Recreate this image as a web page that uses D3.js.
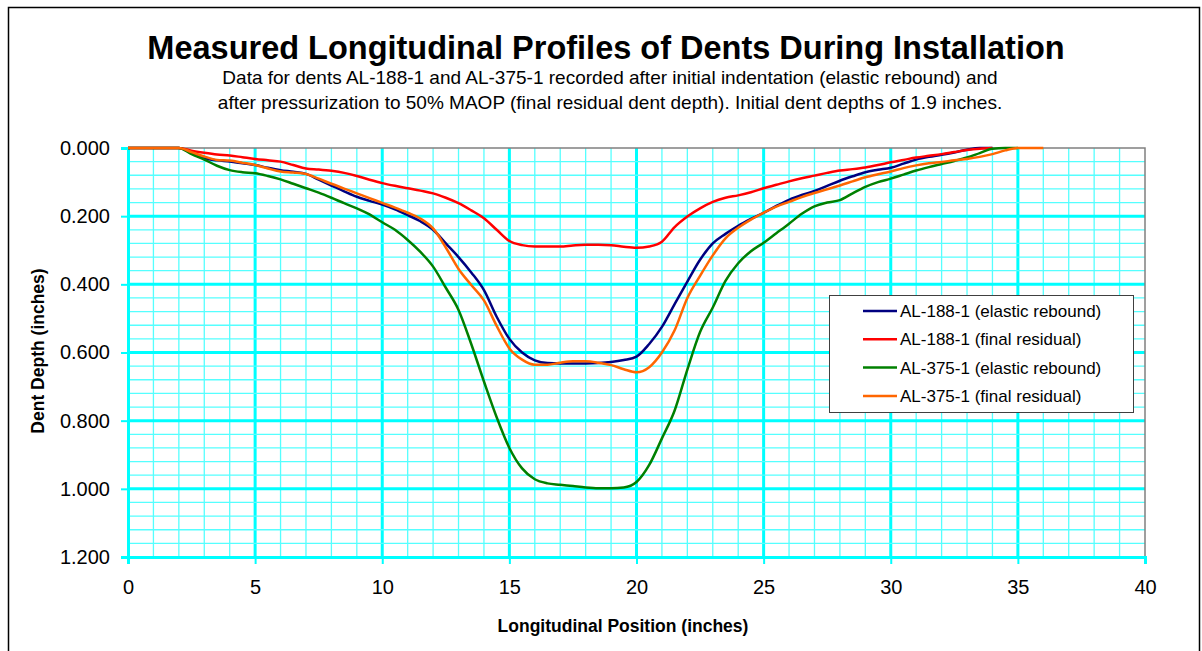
<!DOCTYPE html>
<html>
<head>
<meta charset="utf-8">
<script src="https://cdn.jsdelivr.net/npm/d3@7"></script>
<style>
  body { margin: 0; background: #fff; }
  text { font-family: "Liberation Sans", Arial, sans-serif; fill: #000; }
</style>
</head>
<body>
<svg width="1202" height="651"></svg>
<script>
// sample positions along the dent (inches)
var positions = [0, 0.5, 1, 1.5, 2, 2.5, 3, 3.5, 4, 4.5, 5, 5.5, 6, 6.5, 7, 7.5, 8, 8.5, 9, 9.5,
  10, 10.5, 11, 11.5, 12, 12.5, 13, 13.5, 14, 14.5, 15, 15.5, 16, 16.5, 17, 17.5, 18, 18.5, 19, 19.5,
  20, 20.5, 21, 21.5, 22, 22.5, 23, 23.5, 24, 24.5, 25, 25.5, 26, 26.5, 27, 27.5, 28, 28.5, 29, 29.5,
  30, 30.5, 31, 31.5, 32, 32.5, 33, 33.5, 34, 34.5, 35, 35.5, 36];

var al188Elastic = [0, 0, 0, 0, 0, 0.015, 0.030, 0.036, 0.040, 0.045, 0.050, 0.058, 0.065, 0.070, 0.076, 0.093, 0.110, 0.127, 0.143, 0.155,
  0.166, 0.180, 0.197, 0.215, 0.240, 0.280, 0.320, 0.365, 0.417, 0.495, 0.560, 0.600, 0.623, 0.631, 0.632, 0.632, 0.632, 0.631, 0.628, 0.622,
  0.612, 0.575, 0.525, 0.458, 0.392, 0.328, 0.280, 0.252, 0.228, 0.208, 0.190, 0.170, 0.152, 0.138, 0.126, 0.111, 0.096, 0.083, 0.071, 0.064,
  0.058, 0.046, 0.034, 0.026, 0.020, 0.013, 0.005, 0, 0];

var al188Final = [0, 0, 0, 0, 0, 0.008, 0.014, 0.019, 0.022, 0.027, 0.032, 0.036, 0.040, 0.050, 0.060, 0.063, 0.067, 0.073, 0.082, 0.093,
  0.103, 0.111, 0.118, 0.125, 0.133, 0.146, 0.162, 0.183, 0.206, 0.240, 0.273, 0.285, 0.289, 0.289, 0.289, 0.286, 0.284, 0.284, 0.285, 0.290,
  0.293, 0.289, 0.275, 0.232, 0.201, 0.177, 0.158, 0.146, 0.139, 0.130, 0.118, 0.108, 0.098, 0.089, 0.081, 0.073, 0.066, 0.062, 0.057, 0.050,
  0.042, 0.035, 0.028, 0.023, 0.018, 0.012, 0.006, 0.002, 0];

var al375Elastic = [0, 0, 0, 0, 0, 0.018, 0.034, 0.052, 0.065, 0.071, 0.074, 0.082, 0.092, 0.105, 0.118, 0.131, 0.146, 0.162, 0.177, 0.195,
  0.218, 0.240, 0.270, 0.305, 0.348, 0.410, 0.475, 0.575, 0.685, 0.790, 0.880, 0.940, 0.972, 0.984, 0.988, 0.992, 0.996, 0.998, 0.998, 0.996,
  0.980, 0.930, 0.852, 0.770, 0.650, 0.540, 0.468, 0.390, 0.338, 0.303, 0.278, 0.250, 0.222, 0.193, 0.171, 0.160, 0.153, 0.133, 0.114, 0.100,
  0.090, 0.078, 0.066, 0.056, 0.047, 0.038, 0.028, 0.015, 0.002, 0, 0];

var al375Final = [0, 0, 0, 0, 0, 0.012, 0.025, 0.035, 0.037, 0.043, 0.050, 0.060, 0.069, 0.072, 0.076, 0.090, 0.105, 0.119, 0.133, 0.147,
  0.161, 0.175, 0.190, 0.207, 0.236, 0.292, 0.355, 0.402, 0.447, 0.522, 0.588, 0.621, 0.636, 0.636, 0.630, 0.626, 0.626, 0.630, 0.637, 0.649,
  0.658, 0.643, 0.600, 0.535, 0.440, 0.375, 0.315, 0.265, 0.234, 0.210, 0.190, 0.172, 0.158, 0.144, 0.132, 0.121, 0.110, 0.098, 0.086, 0.077,
  0.069, 0.059, 0.051, 0.045, 0.041, 0.036, 0.032, 0.026, 0.018, 0.007, 0, 0, 0];

var seriesNames = ["AL-188-1 (elastic rebound)", "AL-188-1 (final residual)",
  "AL-375-1 (elastic rebound)", "AL-375-1 (final residual)"];
var seriesValues = [al188Elastic, al188Final, al375Elastic, al375Final];
var seriesColors = ["#000080", "#ff0000", "#008000", "#ff6600"];

var xTicks = [0, 5, 10, 15, 20, 25, 30, 35, 40];
var yTicks = [0, 0.2, 0.4, 0.6, 0.8, 1.0, 1.2];

var svg = d3.select("svg");

var plot = { left: 128, right: 1145, top: 148, bottom: 557 };

var x = d3.scaleLinear().domain([0, 40]).range([plot.left, plot.right]);
var y = d3.scaleLinear().domain([0, 1.2]).range([plot.top, plot.bottom]);

// outer frame
svg.append("rect")
  .attr("x", 8.5).attr("y", 7.5)
  .attr("width", 1191).attr("height", 700)
  .attr("fill", "none")
  .attr("stroke", "#000")
  .attr("stroke-width", 1.5);

// grid
var grid = svg.append("g").attr("class", "grid");

grid.selectAll("line.vminor")
  .data(d3.range(1, 40))
  .enter().append("line")
  .attr("x1", function(d) { return x(d); })
  .attr("x2", function(d) { return x(d); })
  .attr("y1", plot.top).attr("y2", plot.bottom)
  .attr("stroke", function(d) { return d % 5 === 0 ? "#00ffff" : "#55ffff"; })
  .attr("stroke-width", function(d) { return d % 5 === 0 ? 3 : 1.3; });

grid.selectAll("line.hminor")
  .data(d3.range(1, 30))
  .enter().append("line")
  .attr("y1", function(d) { return y(d * 0.04); })
  .attr("y2", function(d) { return y(d * 0.04); })
  .attr("x1", plot.left).attr("x2", plot.right)
  .attr("stroke", function(d) { return d % 5 === 0 ? "#00ffff" : "#55ffff"; })
  .attr("stroke-width", function(d) { return d % 5 === 0 ? 3 : 1.3; });

// plot border (top and right grey)
svg.append("path")
  .attr("d", "M" + plot.left + "," + plot.top + "H" + plot.right + "V" + plot.bottom)
  .attr("fill", "none")
  .attr("stroke", "#808080")
  .attr("stroke-width", 1.5);

// axes
var xAxis = svg.append("g")
  .attr("transform", "translate(0," + plot.bottom + ")")
  .call(d3.axisBottom(x).tickValues(xTicks).tickSize(7).tickPadding(16)
    .tickFormat(d3.format("d")));

var yAxis = svg.append("g")
  .attr("transform", "translate(" + plot.left + ",0)")
  .call(d3.axisLeft(y).tickValues(yTicks).tickSize(7).tickPadding(11)
    .tickFormat(d3.format(".3f")));

[xAxis, yAxis].forEach(function(a) {
  a.select(".domain").attr("stroke", "#00ffff").attr("stroke-width", 3);
  a.selectAll(".tick line").attr("stroke", "#00ffff").attr("stroke-width", 2);
  a.selectAll(".tick text")
    .attr("font-size", 20)
    .attr("font-family", "Liberation Sans, Arial, sans-serif")
    .attr("fill", "#000");
});

// lines
var line = d3.line()
  .x(function(d) { return x(d[0]); })
  .y(function(d) { return y(d[1]); })
  .curve(d3.curveMonotoneX);

svg.append("g").selectAll("path")
  .data(seriesValues)
  .enter().append("path")
  .attr("d", function(vals) {
    return line(vals.map(function(v, i) { return [positions[i], v]; }));
  })
  .attr("fill", "none")
  .attr("stroke", function(d, i) { return seriesColors[i]; })
  .attr("stroke-width", 2.5)
  .attr("stroke-linejoin", "round");

// titles
svg.append("text")
  .attr("x", 606).attr("y", 59)
  .attr("text-anchor", "middle")
  .attr("font-size", 32.5)
  .attr("font-weight", "bold")
  .text("Measured Longitudinal Profiles of Dents During Installation");

svg.append("text")
  .attr("x", 610).attr("y", 84)
  .attr("text-anchor", "middle")
  .attr("font-size", 19)
  .text("Data for dents AL-188-1 and AL-375-1 recorded after initial indentation (elastic rebound) and");

svg.append("text")
  .attr("x", 610).attr("y", 109)
  .attr("text-anchor", "middle")
  .attr("font-size", 19)
  .text("after pressurization to 50% MAOP (final residual dent depth). Initial dent depths of 1.9 inches.");

svg.append("text")
  .attr("x", 623).attr("y", 632)
  .attr("text-anchor", "middle")
  .attr("font-size", 17.5)
  .attr("font-weight", "bold")
  .text("Longitudinal Position (inches)");

svg.append("text")
  .attr("transform", "translate(44,351) rotate(-90)")
  .attr("text-anchor", "middle")
  .attr("font-size", 17.5)
  .attr("font-weight", "bold")
  .text("Dent Depth (inches)");

// legend
var legend = svg.append("g").attr("transform", "translate(829,295)");
legend.append("rect")
  .attr("x", 0.5).attr("y", 0.5)
  .attr("width", 304).attr("height", 117)
  .attr("fill", "#fff")
  .attr("stroke", "#404040")
  .attr("stroke-width", 1);

var item = legend.selectAll("g.item")
  .data(seriesNames)
  .enter().append("g")
  .attr("transform", function(d, i) { return "translate(0," + (16 + i * 28.3) + ")"; });

item.append("line")
  .attr("x1", 34).attr("x2", 68)
  .attr("stroke", function(d, i) { return seriesColors[i]; })
  .attr("stroke-width", 2.5);

item.append("text")
  .attr("x", 71).attr("dy", "0.35em")
  .attr("font-size", 17)
  .text(function(d) { return d; });
</script>
</body>
</html>
